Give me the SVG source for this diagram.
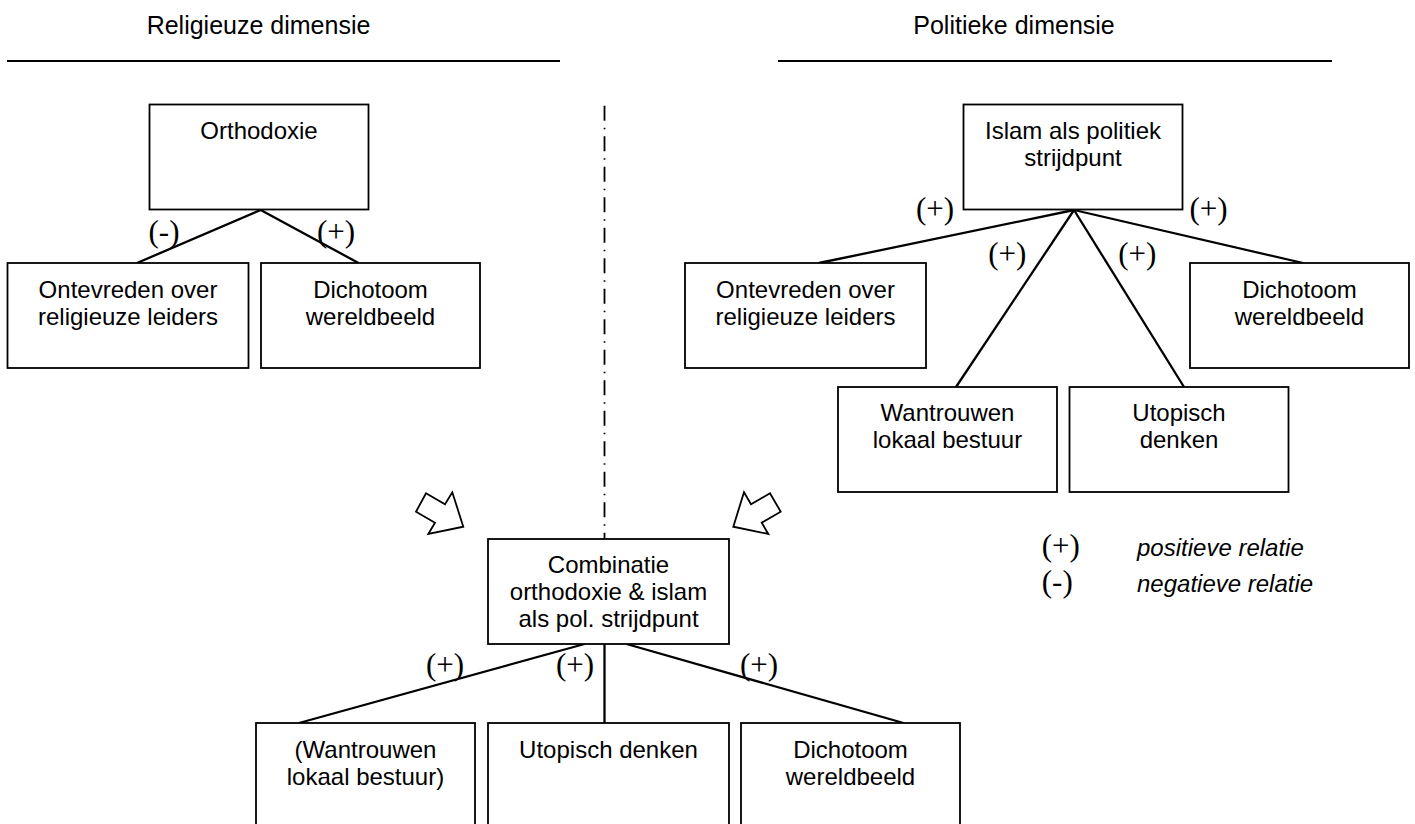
<svg xmlns="http://www.w3.org/2000/svg" width="1415" height="824" viewBox="0 0 1415 824">
<style>
  .box { fill: #fff; stroke: #000; stroke-width: 1.8; }
  .t { font-family: "Liberation Sans", Arial, sans-serif; font-size: 24px; fill: #000; text-anchor: middle; }
  .h { font-family: "Liberation Sans", Arial, sans-serif; font-size: 25px; fill: #000; text-anchor: middle; }
  .lbl { font-family: "Liberation Serif", "Times New Roman", serif; font-size: 31px; fill: #000; }
  .leg { font-family: "Liberation Sans", Arial, sans-serif; font-size: 24px; font-style: italic; fill: #000; }
  .conn { stroke: #000; stroke-width: 2.3; fill: none; }
  .rule { stroke: #000; stroke-width: 2; }
  .arrow { fill: #fff; stroke: #000; stroke-width: 1.8; stroke-linejoin: miter; }
</style>
<rect x="0" y="0" width="1415" height="824" fill="#fff"/>

<g id="headers">
  <text class="h" x="258.5" y="34">Religieuze dimensie</text>
  <line class="rule" x1="7" y1="61" x2="560" y2="61"/>
  <text class="h" x="1014" y="34">Politieke dimensie</text>
  <line class="rule" x1="778" y1="61" x2="1332" y2="61"/>
</g>

<g id="divider">
  <line x1="604.5" y1="105.7" x2="604.5" y2="539" stroke="#000" stroke-width="1.8" stroke-dasharray="15 7 1.5 7"/>
</g>

<g id="connectors">
  <line class="conn" x1="260.7" y1="210" x2="137" y2="263"/>
  <line class="conn" x1="260.7" y1="210" x2="358.5" y2="263"/>
  <line class="conn" x1="1074" y1="210" x2="819" y2="263"/>
  <line class="conn" x1="1074" y1="210" x2="1303" y2="263"/>
  <line class="conn" x1="1074" y1="210" x2="956" y2="387"/>
  <line class="conn" x1="1074" y1="210" x2="1184" y2="387"/>
  <line class="conn" x1="584.5" y1="644" x2="299" y2="723"/>
  <line class="conn" x1="604.5" y1="644" x2="604.5" y2="723"/>
  <line class="conn" x1="626.5" y1="644" x2="903.5" y2="723"/>
</g>

<g id="arrows">
  <polygon class="arrow" points="426,493.3 445,504.3 452.3,492.3 463.3,526.7 428.3,534 435,522.7 416,511.7"/>
  <polygon class="arrow" points="744,492.3 751,504.3 770,493.3 780.7,511.7 761.7,522.7 768.3,534 733.3,526.7"/>
</g>

<g id="orthodoxie">
  <rect class="box" x="149.5" y="104.5" width="219" height="105"/>
  <text class="t" x="259" y="138.5">Orthodoxie</text>
</g>
<g id="r-ontevreden">
  <rect class="box" x="7.5" y="263" width="241" height="105"/>
  <text class="t" x="128" y="297.5">Ontevreden over</text>
  <text class="t" x="128" y="324.5">religieuze leiders</text>
</g>
<g id="r-dichotoom">
  <rect class="box" x="261" y="263" width="219" height="105"/>
  <text class="t" x="370.5" y="297.5">Dichotoom</text>
  <text class="t" x="370.5" y="324.5">wereldbeeld</text>
</g>

<g id="islam">
  <rect class="box" x="963.5" y="104.5" width="219" height="105"/>
  <text class="t" x="1073" y="138.5">Islam als politiek</text>
  <text class="t" x="1073" y="165.5">strijdpunt</text>
</g>
<g id="p-ontevreden">
  <rect class="box" x="685" y="263" width="241" height="105"/>
  <text class="t" x="805.5" y="297.5">Ontevreden over</text>
  <text class="t" x="805.5" y="324.5">religieuze leiders</text>
</g>
<g id="p-dichotoom">
  <rect class="box" x="1190" y="263" width="219" height="105"/>
  <text class="t" x="1299.5" y="297.5">Dichotoom</text>
  <text class="t" x="1299.5" y="324.5">wereldbeeld</text>
</g>
<g id="p-wantrouwen">
  <rect class="box" x="838" y="387" width="219" height="105"/>
  <text class="t" x="947.5" y="421">Wantrouwen</text>
  <text class="t" x="947.5" y="448">lokaal bestuur</text>
</g>
<g id="p-utopisch">
  <rect class="box" x="1069.5" y="387" width="219" height="105"/>
  <text class="t" x="1179" y="421">Utopisch</text>
  <text class="t" x="1179" y="448">denken</text>
</g>

<g id="combinatie">
  <rect class="box" x="488" y="539" width="241" height="105"/>
  <text class="t" x="608.5" y="573">Combinatie</text>
  <text class="t" x="608.5" y="600">orthodoxie &amp; islam</text>
  <text class="t" x="608.5" y="627">als pol. strijdpunt</text>
</g>
<g id="c-wantrouwen">
  <rect class="box" x="256" y="723" width="219" height="110"/>
  <text class="t" x="365.5" y="757.5">(Wantrouwen</text>
  <text class="t" x="365.5" y="784.5">lokaal bestuur)</text>
</g>
<g id="c-utopisch">
  <rect class="box" x="488" y="723" width="241" height="110"/>
  <text class="t" x="608.5" y="757.5">Utopisch denken</text>
</g>
<g id="c-dichotoom">
  <rect class="box" x="741" y="723" width="219" height="110"/>
  <text class="t" x="850.5" y="757.5">Dichotoom</text>
  <text class="t" x="850.5" y="784.5">wereldbeeld</text>
</g>

<g id="labels">
  <text class="lbl" x="148.5" y="241.5">(-)</text>
  <text class="lbl" x="317" y="241.5">(+)</text>
  <text class="lbl" x="916" y="218.5">(+)</text>
  <text class="lbl" x="1189.5" y="218.5">(+)</text>
  <text class="lbl" x="988.3" y="263.7">(+)</text>
  <text class="lbl" x="1118.3" y="263.7">(+)</text>
  <text class="lbl" x="426" y="674.5">(+)</text>
  <text class="lbl" x="556" y="674.5">(+)</text>
  <text class="lbl" x="740" y="674.5">(+)</text>
</g>

<g id="legend">
  <text class="lbl" x="1041.8" y="556">(+)</text>
  <text class="leg" x="1137" y="556">positieve relatie</text>
  <text class="lbl" x="1041.8" y="592">(-)</text>
  <text class="leg" x="1137" y="592">negatieve relatie</text>
</g>
</svg>
